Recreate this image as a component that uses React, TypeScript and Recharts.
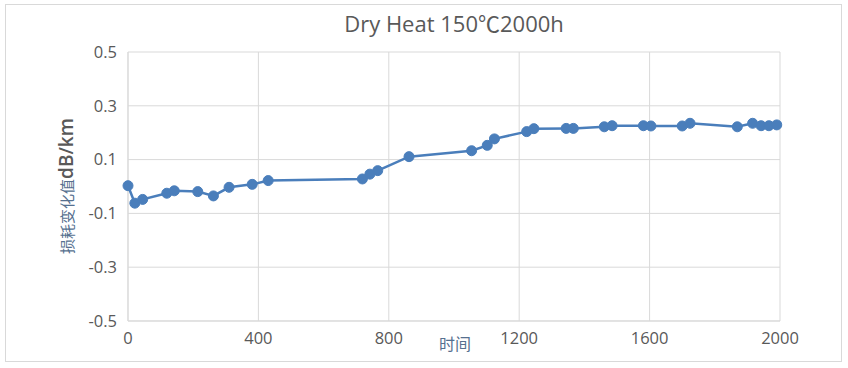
import React from 'react';
import { LineChart, Line, XAxis, YAxis, CartesianGrid } from 'recharts';

// Dry heat aging test: loss change vs time
const hours = [
    0, 21, 45, 119, 142, 214, 262, 310, 381, 430,
    719, 742, 766, 862, 1054, 1102, 1124, 1223, 1245, 1344,
    1366, 1461, 1485, 1581, 1604, 1700, 1724, 1869, 1916, 1942,
    1966, 1990,
];
const lossChange = [
    0.003, -0.062, -0.048, -0.025, -0.016, -0.019, -0.035, -0.003, 0.008, 0.022,
    0.028, 0.046, 0.059, 0.111, 0.133, 0.153, 0.177, 0.204, 0.215, 0.216,
    0.216, 0.222, 0.226, 0.226, 0.225, 0.225, 0.235, 0.222, 0.235, 0.226,
    0.226, 0.229,
];
const xTicks = [0, 400, 800, 1200, 1600, 2000];
const yTicks = [-0.5, -0.3, -0.1, 0.1, 0.3, 0.5];

const TITLE = 'Dry Heat 150℃2000h';
const X_LABEL = '时间';
const Y_LABEL_CN = '损耗变化值';
const Y_LABEL_UNIT = 'dB/km';

const FONT = '"Open Sans", "Noto Sans CJK SC", sans-serif';
const TEXT = '#595959';
const LABEL = '#56708f';
const GRID = '#d9d9d9';
const BLUE = '#4a7ebb';

const chartData = hours.map((h, i) => ({ hours: h, loss: lossChange[i] }));

function YLabel() {
    return (
        <text x={66} y={186} transform="rotate(-90 66 186)" textAnchor="middle" dominantBaseline="central" fontFamily={FONT}>
            <tspan fill={LABEL} fontSize={15} fontFamily='"Noto Sans CJK SC", sans-serif'>{Y_LABEL_CN}</tspan>
            <tspan fill={TEXT} fontSize={19} fontWeight={600}>{Y_LABEL_UNIT}</tspan>
        </text>
    );
}

function XLabel() {
    return (
        <text x={455} y={343} textAnchor="middle" dominantBaseline="central" fill={LABEL} fontSize={16} fontFamily='"Noto Sans CJK SC", sans-serif'>
            {X_LABEL}
        </text>
    );
}

export default function App() {
    return (
        <div style={{ position: 'absolute', left: 0, top: 0, width: 848, height: 368, background: '#ffffff', fontFamily: FONT }}>
            <div style={{ position: 'absolute', left: 5, top: 4, width: 835, height: 356, border: `1px solid ${GRID}` }} />
            <div style={{ position: 'absolute', left: 254, top: 6, width: 400, textAlign: 'center', fontSize: 22, color: TEXT }}>
                {TITLE}
            </div>
            <div style={{ position: 'absolute', left: 0, top: 0 }}>
                <LineChart width={848} height={368} data={chartData} margin={{ top: 52, right: 68, bottom: 17, left: 68 }}>
                    <CartesianGrid stroke={GRID} strokeWidth={1} />
                    <XAxis
                        dataKey="hours"
                        type="number"
                        domain={[0, 2000]}
                        ticks={xTicks}
                        height={30}
                        tickLine={false}
                        axisLine={{ stroke: GRID }}
                        tickMargin={5}
                        tick={{ fill: TEXT, fontSize: 16.5, fontFamily: FONT }}
                        label={<XLabel />}
                    />
                    <YAxis
                        type="number"
                        domain={[-0.5, 0.5]}
                        ticks={yTicks}
                        width={60}
                        tickLine={false}
                        axisLine={{ stroke: GRID }}
                        tickMargin={5}
                        tickFormatter={(v: number) => v.toFixed(1)}
                        tick={{ fill: TEXT, fontSize: 16.5, fontFamily: FONT }}
                        label={<YLabel />}
                    />
                    <Line
                        type="linear"
                        dataKey="loss"
                        stroke={BLUE}
                        strokeWidth={2.5}
                        dot={{ r: 5, fill: BLUE, stroke: BLUE, strokeWidth: 1 }}
                        isAnimationActive={false}
                    />
                </LineChart>
            </div>
        </div>
    );
}
